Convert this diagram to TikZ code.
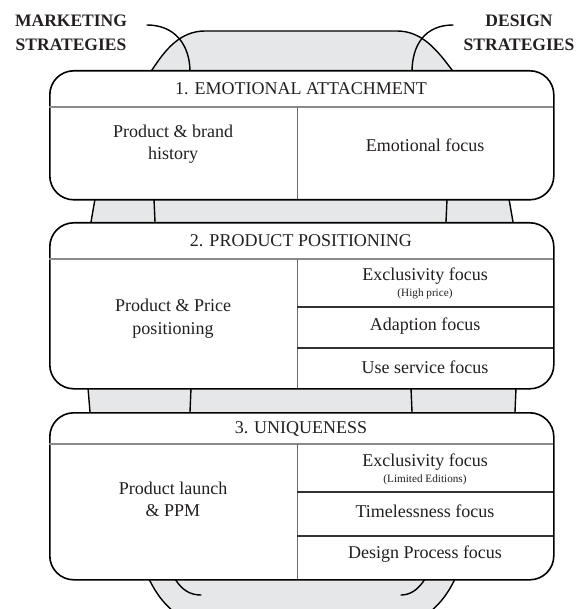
\documentclass[tikz,border=0pt]{standalone}
\usepackage{fontspec}
\setmainfont{Liberation Serif}
\definecolor{bodygray}{HTML}{E6E7E8}
\definecolor{txt}{HTML}{231F20}
\definecolor{rulegray}{HTML}{8A8A8A}
\definecolor{divgray}{HTML}{6A6A6A}
\begin{document}
\begin{tikzpicture}[x=1pt,y=-1pt,
  boxshape/.style={draw=black, line width=1.6pt, fill=white, rounded corners=24pt, inner sep=0pt, anchor=north west},
  bodyline/.style={draw=black, line width=1.4pt, line cap=round},
  hrule/.style={draw=rulegray, line width=1.1pt},
  vrule/.style={draw=divgray, line width=0.8pt},
  crule/.style={draw=black!80, line width=1.1pt},
  headtxt/.style={font=\fontsize{18}{21}\selectfont, text=txt, inner sep=0pt},
  celltxt/.style={font=\fontsize{18}{22.5}\selectfont, text=txt, align=center, inner sep=0pt},
  smalltxt/.style={font=\fontsize{11.2}{13}\selectfont, text=txt, inner sep=0pt},
  labtxt/.style={font=\bfseries\fontsize{17.5}{24}\selectfont, text=txt, align=center, inner sep=0pt}]

\useasboundingbox (0,0) rectangle (576,609);
\clip (0,0) rectangle (576,609);

% gray body
\path[fill=bodygray, bodyline] (152,70) .. controls (165,50) and (180,31) .. (205,31) -- (397,31)
  .. controls (422,31) and (437,50) .. (452,70) -- (509,199) -- (513,222) -- (516,388) -- (515,412)
  -- (455,579) .. controls (447,595) and (440,605) .. (420,620) -- (184,620)
  .. controls (164,605) and (157,595) .. (149,579) -- (90,412) -- (88,388) -- (91,222) -- (95,199) -- cycle;

% inner strategy lines
\draw[bodyline] (147,25) .. controls (175,25) and (190,45) .. (190,72) -- (154,199) -- (155,222)
  -- (191,388) -- (190,412) -- (175,579) .. controls (182,590) and (190,595) .. (201,595);
\draw[bodyline] (453,25) .. controls (425,25) and (412,45) .. (412,72) -- (447,199) -- (446,222)
  -- (411,388) -- (412,412) -- (425,579) .. controls (418,590) and (410,595) .. (401,595);

% labels
\node[labtxt] (mkt) at (71,32.5) {MARKETING\\STRATEGIES};
\node[labtxt] (des) at (519,32.5) {DESIGN\\STRATEGIES};

% box 1
\node[boxshape, minimum width=504pt, minimum height=129pt] (b1) at (49,70) {};
\draw[hrule] (49,107) -- (553,107);
\draw[vrule] (297,107) -- (297,199);
\node[headtxt] (h1) at (301,88.5) {1. EMOTIONAL ATTACHMENT};
\node[celltxt] (m1) at (173,144) {Product \& brand\\history};
\node[celltxt] (d1) at (425,145) {Emotional focus};

% box 2
\node[boxshape, minimum width=504pt, minimum height=166pt] (b2) at (49,222) {};
\draw[hrule] (49,259) -- (553,259);
\draw[vrule] (297,259) -- (297,388);
\draw[crule] (297,307) -- (553,307);
\draw[crule] (297,348) -- (553,348);
\node[headtxt] (h2) at (301,240.5) {2. PRODUCT POSITIONING};
\node[celltxt] (m2) at (173,318.5) {Product \& Price\\positioning};
\node[celltxt] (d2a) at (425,276.5) {Exclusivity focus};
\node[smalltxt] (d2s) at (425,294) {(High price)};
\node[celltxt] (d2b) at (425,326) {Adaption focus};
\node[celltxt] (d2c) at (425,367) {Use service focus};

% box 3
\node[boxshape, minimum width=504pt, minimum height=167pt] (b3) at (49,412) {};
\draw[hrule] (49,444) -- (553,444);
\draw[vrule] (297,444) -- (297,579);
\draw[crule] (297,492) -- (553,492);
\draw[crule] (297,536) -- (553,536);
\node[headtxt] (h3) at (301,428.5) {3. UNIQUENESS};
\node[celltxt] (m3) at (173,499.5) {Product launch\\\& PPM};
\node[celltxt] (d3a) at (425,462) {Exclusivity focus};
\node[smalltxt] (d3s) at (425,480) {(Limited Editions)};
\node[celltxt] (d3b) at (425,511) {Timelessness focus};
\node[celltxt] (d3c) at (425,554) {Design Process focus};
\end{tikzpicture}
\end{document}
